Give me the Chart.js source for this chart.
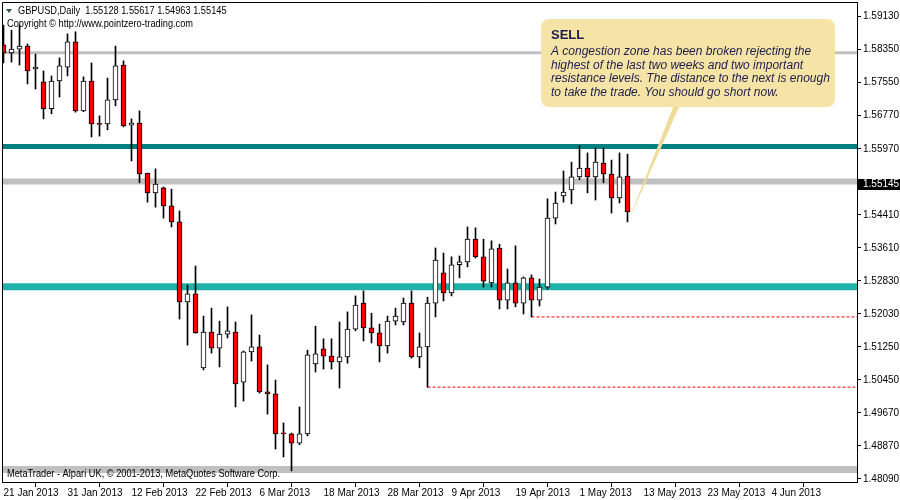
<!DOCTYPE html>
<html>
<head>
<meta charset="utf-8">
<script src="https://cdn.jsdelivr.net/npm/chart.js@4.4.1/dist/chart.umd.min.js"></script>
<style>
  html, body { margin: 0; padding: 0; background: #fff; }
  #chartCandles { display: block; }
</style>
</head>
<body>
<canvas id="chartCandles" width="900" height="500"></canvas>
<script>
// daily GBPUSD bars, one per trading day from 21 Jan 2013 (index 0) to 8 May 2013 (index 78)
const opens = [
  1.5846, 1.5827, 1.5836, 1.5843, 1.5789, 1.5758, 1.5694, 1.5760, 1.5793, 1.5853,
  1.5689, 1.5760, 1.5658, 1.5658, 1.5715, 1.5798, 1.5655, 1.5660, 1.5541, 1.5494,
  1.5506, 1.5463, 1.5425, 1.5235, 1.5254, 1.5078, 1.5163, 1.5125, 1.5158, 1.5163,
  1.5044, 1.5116, 1.5128, 1.5021, 1.5016, 1.4922, 1.4921, 1.4899, 1.4921, 1.5087,
  1.5123, 1.5106, 1.5092, 1.5104, 1.5170, 1.5232, 1.5173, 1.5161, 1.5130, 1.5189,
  1.5187, 1.5232, 1.5104, 1.5128, 1.5232, 1.5304, 1.5256, 1.5323, 1.5330, 1.5384,
  1.5342, 1.5280, 1.5363, 1.5239, 1.5280, 1.5232, 1.5292, 1.5239, 1.5270, 1.5434,
  1.5487, 1.5501, 1.5532, 1.5553, 1.5532, 1.5565, 1.5539, 1.5482, 1.5534
]
const highs = [
  1.5893, 1.5881, 1.5893, 1.5848, 1.5824, 1.5784, 1.5772, 1.5815, 1.5872, 1.5877,
  1.5770, 1.5803, 1.5677, 1.5767, 1.5843, 1.5808, 1.5670, 1.5689, 1.5541, 1.5551,
  1.5508, 1.5503, 1.5451, 1.5275, 1.5320, 1.5201, 1.5220, 1.5189, 1.5223, 1.5187,
  1.5118, 1.5204, 1.5156, 1.5085, 1.5049, 1.4947, 1.4923, 1.4985, 1.5120, 1.5177,
  1.5147, 1.5147, 1.5187, 1.5211, 1.5249, 1.5261, 1.5208, 1.5182, 1.5201, 1.5220,
  1.5244, 1.5261, 1.5161, 1.5246, 1.5363, 1.5351, 1.5342, 1.5344, 1.5413, 1.5411,
  1.5384, 1.5380, 1.5372, 1.5313, 1.5368, 1.5294, 1.5299, 1.5289, 1.5480, 1.5496,
  1.5546, 1.5567, 1.5606, 1.5589, 1.5601, 1.5601, 1.5572, 1.5589, 1.5586
]
const lows = [
  1.5803, 1.5805, 1.5798, 1.5753, 1.5741, 1.5670, 1.5682, 1.5722, 1.5772, 1.5686,
  1.5687, 1.5627, 1.5629, 1.5644, 1.5701, 1.5651, 1.5570, 1.5518, 1.5472, 1.5460,
  1.5434, 1.5413, 1.5194, 1.5132, 1.5160, 1.5073, 1.5113, 1.5080, 1.5149, 1.4985,
  1.4999, 1.5094, 1.5018, 1.4968, 1.4885, 1.4866, 1.4833, 1.4895, 1.4916, 1.5068,
  1.5075, 1.5075, 1.5030, 1.5089, 1.5166, 1.5142, 1.5137, 1.5092, 1.5113, 1.5180,
  1.5180, 1.5101, 1.5078, 1.5032, 1.5199, 1.5237, 1.5249, 1.5292, 1.5318, 1.5339,
  1.5270, 1.5270, 1.5218, 1.5218, 1.5223, 1.5206, 1.5199, 1.5225, 1.5265, 1.5420,
  1.5472, 1.5468, 1.5525, 1.5494, 1.5477, 1.5518, 1.5446, 1.5470, 1.5425
]
const closes = [
  1.5827, 1.5836, 1.5843, 1.5784, 1.5793, 1.5694, 1.5760, 1.5796, 1.5853, 1.5689,
  1.5760, 1.5658, 1.5657, 1.5715, 1.5796, 1.5653, 1.5660, 1.5539, 1.5494, 1.5515,
  1.5463, 1.5425, 1.5235, 1.5254, 1.5161, 1.5163, 1.5125, 1.5158, 1.5166, 1.5040,
  1.5116, 1.5128, 1.5021, 1.5016, 1.4921, 1.4921, 1.4899, 1.4921, 1.5109, 1.5111,
  1.5106, 1.5092, 1.5104, 1.5170, 1.5227, 1.5173, 1.5161, 1.5130, 1.5189, 1.5201,
  1.5232, 1.5104, 1.5128, 1.5232, 1.5334, 1.5256, 1.5323, 1.5330, 1.5384, 1.5342,
  1.5284, 1.5361, 1.5239, 1.5280, 1.5232, 1.5292, 1.5239, 1.5270, 1.5434, 1.5470,
  1.5496, 1.5532, 1.5553, 1.5532, 1.5567, 1.5539, 1.5482, 1.5532, 1.5449
]

// date labels on the time axis (bar index where each label sits)
const xTickBars = [0, 8, 16, 24, 32, 40, 48, 56, 64, 72, 80, 88, 96]
const xTickLabels = ['21 Jan 2013', '31 Jan 2013', '12 Feb 2013', '22 Feb 2013', '6 Mar 2013',
  '18 Mar 2013', '28 Mar 2013', '9 Apr 2013', '19 Apr 2013', '1 May 2013',
  '13 May 2013', '23 May 2013', '4 Jun 2013']

// price labels of the right axis, top to bottom (null = hidden behind the current price)
const yTickLabels = ['1.59130', '1.58350', '1.57550', '1.56770', '1.55970', null, '1.54410',
  '1.53610', '1.52830', '1.52030', '1.51250', '1.50450', '1.49670', '1.48870', '1.48090']
const yTickTop = 1.5913
const yTickStep = 0.007852

// horizontal levels drawn across the whole chart
const levelValues = [1.5827, 1.5604, 1.5521, 1.5271, 1.4836]
// red dashed lines: level and the bar where they start
const dashedValues = [1.5032, 1.5199]
const dashedStartBars = [53, 66]

const currentPrice = 1.55145
const headerSymbol = 'GBPUSD,Daily'
const headerPrices = ['1.55128', '1.55617', '1.54963', '1.55145']
const noteTitle = 'SELL'
const noteLines = [
  'A congestion zone has been broken rejecting the',
  'highest of the last two weeks and two important',
  'resistance levels. The distance to the next is enough',
  'to take the trade. You should go short now.'
]

// visible ranges
const xMin = -0.1875
const xMax = 106.6875
const yMin = 1.48065
const yMax = 1.59479

// styles of the levels (same order as levelValues)
const levelColors = ['#c0c0c0', '#008080', '#c0c0c0', '#20b2aa', '#c0c0c0']
const levelWidths = [3, 5, 6, 7, 7]

const axisFont = '"Liberation Sans", Arial, sans-serif'

let datasets = []

// candle bodies (drawn on top)
datasets.push({
    type: 'bar',
    data: opens.map((o, i) => ({ x: i, y: [o, closes[i]] })),
    backgroundColor: opens.map((o, i) => closes[i] < o ? '#ff0000' : '#ffffff'),
    borderColor: '#000000',
    borderWidth: 1,
    borderSkipped: false,
    barThickness: 5,
    minBarLength: 1,
    grouped: false
})

// wicks
datasets.push({
    type: 'bar',
    data: lows.map((l, i) => ({ x: i, y: [l, highs[i]] })),
    backgroundColor: '#000000',
    borderWidth: 0,
    barThickness: 1,
    grouped: false
})

// dashed support lines
dashedValues.forEach((v, i) => {
    datasets.push({
        type: 'line',
        data: [{ x: dashedStartBars[i], y: v }, { x: xMax, y: v }],
        borderColor: '#ff0000',
        borderWidth: 1,
        borderDash: [3, 2],
        pointRadius: 0
    })
})

// horizontal levels (drawn first, behind the candles)
levelValues.forEach((v, i) => {
    datasets.push({
        type: 'line',
        data: [{ x: xMin, y: v }, { x: xMax, y: v }],
        borderColor: levelColors[i],
        borderWidth: levelWidths[i],
        pointRadius: 0
    })
})

function roundRect(ctx, x, y, w, h, r) {
    ctx.beginPath()
    ctx.moveTo(x + r, y)
    ctx.lineTo(x + w - r, y)
    ctx.quadraticCurveTo(x + w, y, x + w, y + r)
    ctx.lineTo(x + w, y + h - r)
    ctx.quadraticCurveTo(x + w, y + h, x + w - r, y + h)
    ctx.lineTo(x + r, y + h)
    ctx.quadraticCurveTo(x, y + h, x, y + h - r)
    ctx.lineTo(x, y + r)
    ctx.quadraticCurveTo(x, y, x + r, y)
    ctx.closePath()
}

// terminal style text: 11px squeezed horizontally
function narrowText(ctx, text, x, y) {
    ctx.save()
    ctx.translate(x, y)
    ctx.scale(0.84, 1)
    ctx.font = '11px ' + axisFont
    ctx.fillText(text, 0, 0)
    ctx.restore()
}

// frame, texts, price box and the note
const overlayPlugin = {
    id: 'overlay',
    afterDraw(chart) {
        const ctx = chart.ctx
        const area = chart.chartArea
        const xs = chart.scales.x
        const ys = chart.scales.y
        ctx.save()

        // left and top border of the chart window
        ctx.strokeStyle = '#000000'
        ctx.lineWidth = 1
        ctx.beginPath()
        ctx.moveTo(area.left + 0.5, area.bottom)
        ctx.lineTo(area.left + 0.5, area.top + 0.5)
        ctx.lineTo(area.right, area.top + 0.5)
        ctx.stroke()

        // header
        ctx.fillStyle = '#2f5252'
        ctx.beginPath()
        ctx.moveTo(6, 9)
        ctx.lineTo(12, 9)
        ctx.lineTo(9, 13)
        ctx.closePath()
        ctx.fill()
        ctx.fillStyle = '#000000'
        ctx.textBaseline = 'alphabetic'
        ctx.textAlign = 'left'
        narrowText(ctx, headerSymbol + '  ' + headerPrices.join(' '), 18, 14)
        narrowText(ctx, 'Copyright \u00a9 http://www.pointzero-trading.com', 7, 27)
        narrowText(ctx, 'MetaTrader - Alpari UK, \u00a9 2001-2013, MetaQuotes Software Corp.', 7, 477)

        // current price box on the right axis
        let py = Math.round(ys.getPixelForValue(currentPrice))
        ctx.fillStyle = '#000000'
        ctx.fillRect(area.right + 1, py - 5, 43, 11)
        ctx.fillStyle = '#ffffff'
        ctx.textBaseline = 'middle'
        ctx.font = '10px ' + axisFont
        ctx.fillText(currentPrice.toFixed(5), area.right + 6, py + 0.5)

        // pointer from the note to the last candle
        let last = opens.length - 1
        let tipX = xs.getPixelForValue(last)
        let tipY = ys.getPixelForValue(lows[last])
        ctx.fillStyle = '#efdc9a'
        ctx.beginPath()
        ctx.moveTo(674, 105)
        ctx.lineTo(680, 105)
        ctx.lineTo(tipX, tipY + 1)
        ctx.closePath()
        ctx.fill()

        // the note
        roundRect(ctx, 541, 19, 294, 88, 9)
        ctx.fillStyle = '#f6e4a6'
        ctx.fill()
        ctx.fillStyle = '#1c1c4e'
        ctx.textBaseline = 'alphabetic'
        ctx.font = 'bold 13px ' + axisFont
        ctx.fillText(noteTitle, 551, 39)
        ctx.font = 'italic 12px ' + axisFont
        noteLines.forEach((line, i) => ctx.fillText(line, 551, 55 + i * 13.7))

        ctx.restore()
    }
}

let chartCandles = new Chart(document.getElementById('chartCandles'), {
    type: 'bar',
    data: { datasets: datasets },
    options: {
        responsive: false,
        animation: false,
        events: [],
        layout: { padding: { left: 2, top: 2, right: 0, bottom: 0 } },
        plugins: {
            legend: { display: false },
            tooltip: { enabled: false }
        },
        scales: {
            x: {
                type: 'linear',
                min: xMin,
                max: xMax,
                offset: false,
                grid: { drawOnChartArea: false, drawTicks: true, tickLength: 5, color: '#000000' },
                border: { display: true, color: '#000000' },
                afterBuildTicks: (scale) => { scale.ticks = xTickBars.map(v => ({ value: v })) },
                afterFit: (scale) => {
                    scale.height = 18
                    scale.paddingLeft = 0
                    scale.paddingRight = 0
                },
                ticks: {
                    autoSkip: false,
                    maxRotation: 0,
                    minRotation: 0,
                    align: 'start',
                    padding: 0,
                    color: '#000000',
                    font: { family: axisFont, size: 10 },
                    callback: (value, index) => xTickLabels[index]
                }
            },
            y: {
                type: 'linear',
                position: 'right',
                min: yMin,
                max: yMax,
                grid: { drawOnChartArea: false, drawTicks: true, tickLength: 4, color: '#000000' },
                border: { display: true, color: '#000000' },
                afterBuildTicks: (scale) => {
                    let t = []
                    yTickLabels.forEach((label, k) => {
                        if (label !== null) t.push({ value: yTickTop - k * yTickStep, label: label })
                    })
                    scale.ticks = t
                },
                afterFit: (scale) => {
                    scale.width = 43
                    scale.paddingTop = 0
                    scale.paddingBottom = 0
                },
                ticks: {
                    autoSkip: false,
                    padding: 2,
                    color: '#000000',
                    font: { family: axisFont, size: 10 },
                    callback: function (value, index, ticks) { return ticks[index].label }
                }
            }
        }
    },
    plugins: [overlayPlugin]
})
</script>
</body>
</html>
